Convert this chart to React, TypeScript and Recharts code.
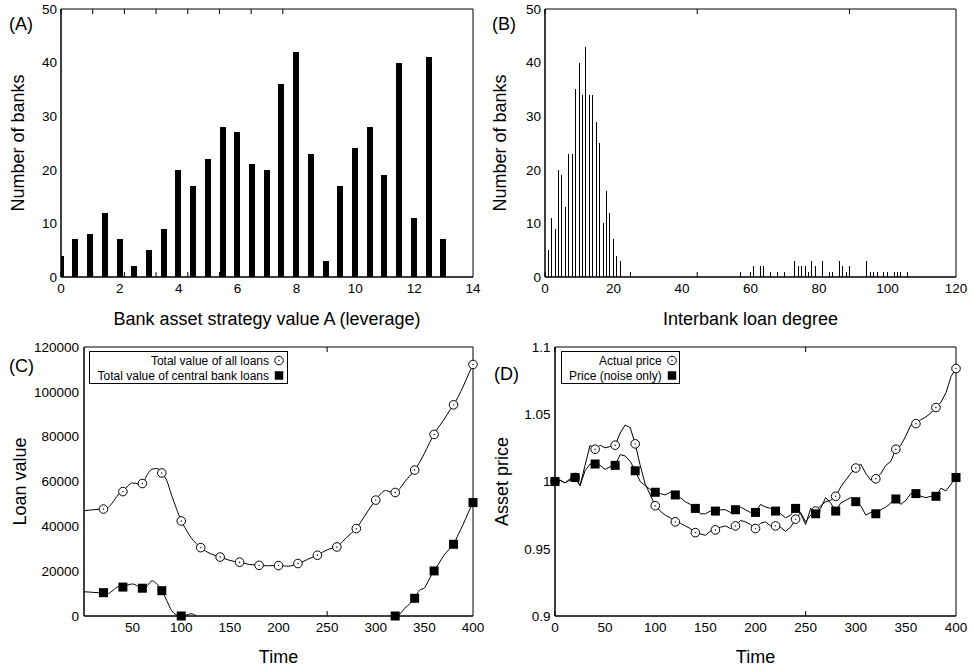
import React from "react";
import { Bar, BarChart, Legend, Line, LineChart, XAxis, YAxis } from "recharts";

const FONT = '"Liberation Sans", Arial, Helvetica, sans-serif';

// (A) distribution of the leverage strategy value A
const leverageValues = [0, 0.5, 1, 1.5, 2, 2.5, 3, 3.5, 4, 4.5, 5, 5.5, 6, 6.5, 7, 7.5, 8, 8.5, 9, 9.5, 10, 10.5, 11, 11.5, 12, 12.5, 13];
const leverageCounts = [4, 7, 8, 12, 7, 2, 5, 9, 20, 17, 22, 28, 27, 21, 20, 36, 42, 23, 3, 17, 24, 28, 19, 40, 11, 41, 7];
const leverageTicks = [0, 2, 4, 6, 8, 10, 12, 14];
const bankTicks = [0, 10, 20, 30, 40, 50];

// (B) interbank loan degree distribution
const degreeValues = [
  1, 2, 3, 4, 5, 6, 7, 8, 9, 10, 11, 12, 13, 14, 15, 16, 17, 18, 19, 20, 21, 22, 25,
  57, 60, 61, 63, 64, 66, 68, 70, 73, 74, 75, 76, 77, 78, 79, 81, 83, 84, 86, 87, 88, 89,
  94, 95, 96, 97, 99, 100, 102, 103, 104, 106,
];
const degreeCounts = [
  5, 11, 9, 20, 19, 13, 23, 23, 35, 40, 34, 43, 34, 34, 29, 25, 10, 16, 12, 7, 4, 3, 1,
  1, 1, 2, 2, 2, 1, 1, 1, 3, 2, 2, 2, 1, 3, 2, 3, 1, 1, 3, 2, 1, 2,
  3, 1, 1, 1, 1, 1, 1, 1, 1, 1,
];
const degreeTicks = [0, 20, 40, 60, 80, 100, 120];

// (C) and (D) share the time axis
const timeSteps = [
  0, 5, 10, 15, 20, 25, 30, 35, 40, 45, 50, 55, 60, 65, 70, 75, 80, 85, 90, 95,
  100, 105, 110, 115, 120, 125, 130, 135, 140, 145, 150, 155, 160, 165, 170, 175, 180, 185, 190, 195,
  200, 205, 210, 215, 220, 225, 230, 235, 240, 245, 250, 255, 260, 265, 270, 275, 280, 285, 290, 295,
  300, 305, 310, 315, 320, 325, 330, 335, 340, 345, 350, 355, 360, 365, 370, 375, 380, 385, 390, 395,
  400,
];

const allLoans = [
  47000, 47200, 47400, 47600, 47700, 48500, 51000, 54000, 55500, 58000,
  59400, 59000, 59100, 63000, 65500, 65800, 63800, 60500, 54000, 48000,
  42400, 38500, 35000, 32500, 30500, 29000, 27800, 27000, 26300, 25500,
  24800, 24300, 24000, 23500, 23000, 22800, 22600, 22500, 22400, 22500,
  22500, 22400, 22200, 22600, 23400, 24200, 25300, 26200, 27100, 28400,
  29500, 30200, 30800, 32800, 35000, 37000, 39000, 42200, 45500, 48800,
  51700, 54500, 56000, 55300, 55100, 57000, 60000, 62500, 65100, 68500,
  72500, 77000, 81000, 84500, 87500, 91000, 94200, 98000, 102500, 107500,
  112200,
];
const centralLoans = [
  10800, 10700, 10500, 10400, 10400, 10100, 11500, 13000, 12900, 13800,
  14300, 13400, 12400, 13500, 15700, 14200, 11300, 7000, 2500, 500,
  0, 400, 1000, 300, null, null, null, null, null, null,
  null, null, null, null, null, null, null, null, null, null,
  null, null, null, null, null, null, null, null, null, null,
  null, null, null, null, null, null, null, null, null, null,
  null, null, null, null, 0, 1000, 3500, 5500, 7900, 11500,
  12500, 16500, 20100, 23500, 27000, 29500, 32000, 36500, 41000, 46000,
  50600,
];
const loanTicks = [0, 20000, 40000, 60000, 80000, 100000, 120000];
const loanTimeTicks = [50, 100, 150, 200, 250, 300, 350, 400];

const actualPrice = [
  1.0, 1.001, 0.999, 1.002, 1.003, 0.997, 1.012, 1.027, 1.024, 1.027,
  1.025, 1.026, 1.027, 1.036, 1.042, 1.04, 1.028, 1.012, 0.998, 0.99,
  0.982, 0.978, 0.975, 0.973, 0.97, 0.969, 0.967, 0.965, 0.962, 0.961,
  0.96, 0.963, 0.964, 0.966, 0.967, 0.965, 0.967, 0.971, 0.97, 0.968,
  0.965, 0.969, 0.97, 0.967, 0.967, 0.966, 0.963, 0.966, 0.972, 0.977,
  0.97, 0.975, 0.978, 0.982, 0.985, 0.986, 0.989, 0.996, 1.001, 1.006,
  1.01, 1.013, 1.006, 1.001, 1.002, 1.006, 1.012, 1.015, 1.024, 1.027,
  1.034, 1.042, 1.043, 1.046, 1.048, 1.051, 1.055, 1.059, 1.066, 1.078,
  1.084,
];
const noisePrice = [
  1.0, 1.001, 0.999, 1.001, 1.003, 0.997, 1.008, 1.013, 1.013, 1.012,
  1.009, 1.011, 1.012, 1.02, 1.019, 1.015, 1.008, 1.0, 0.997, 0.994,
  0.992, 0.991, 0.99, 0.992, 0.99, 0.988, 0.985, 0.983, 0.98, 0.976,
  0.976, 0.978, 0.978, 0.979, 0.979, 0.977, 0.979, 0.981, 0.979, 0.977,
  0.977, 0.983, 0.981, 0.98, 0.978, 0.976, 0.973, 0.975, 0.98, 0.976,
  0.968, 0.98, 0.976, 0.98, 0.988, 0.984, 0.978, 0.984, 0.986, 0.988,
  0.985, 0.982, 0.975, 0.977, 0.976, 0.979, 0.981, 0.984, 0.987, 0.983,
  0.986, 0.991, 0.991, 0.989, 0.988, 0.989, 0.989, 0.995, 0.993, 0.998,
  1.003,
];
const priceTicks = [0.9, 0.95, 1, 1.05, 1.1];
const priceTimeTicks = [0, 50, 100, 150, 200, 250, 300, 350, 400];

const leverageRows = leverageValues.map((v, i) => ({ value: v, count: leverageCounts[i] }));
const degreeRows = degreeValues.map((v, i) => ({ value: v, count: degreeCounts[i] }));
const loanRows = timeSteps.map((t, i) => ({ time: t, all: allLoans[i], central: centralLoans[i] }));
const priceRows = timeSteps.map((t, i) => ({ time: t, actual: actualPrice[i], noise: noisePrice[i] }));

const tickText = { fill: "#000", fontSize: 13.5 };
const noTick = () => <g />;

// gnuplot style box: inward ticks on all four sides, drawn by mirrored axes
function frameAxes(xDomain: number[], xTicks: number[], yDomain: number[], yTicks: number[]) {
  const common = { type: "number" as const, interval: 0, stroke: "#000", tickSize: 5, tick: noTick, mirror: true };
  return [
    <XAxis key="fb" xAxisId="fb" orientation="bottom" domain={xDomain} ticks={xTicks} height={1} {...common} />,
    <XAxis key="ft" xAxisId="ft" orientation="top" domain={xDomain} ticks={xTicks} height={1} {...common} />,
    <YAxis key="fl" yAxisId="fl" orientation="left" domain={yDomain} ticks={yTicks} width={1} {...common} />,
    <YAxis key="fr" yAxisId="fr" orientation="right" domain={yDomain} ticks={yTicks} width={1} {...common} />,
  ];
}

const blackBar = (p: any) => (
  <rect x={p.x} y={p.y} width={p.width} height={p.height} fill="#000" shapeRendering="crispEdges" />
);

function OpenCircle({ cx, cy }: { cx: number; cy: number }) {
  return (
    <g>
      <circle cx={cx} cy={cy} r={4.3} fill="#fff" stroke="#000" strokeWidth={1} />
      <circle cx={cx} cy={cy} r={0.7} fill="#000" />
    </g>
  );
}

function FilledSquare({ cx, cy, size = 9 }: { cx: number; cy: number; size?: number }) {
  return <rect x={cx - size / 2} y={cy - size / 2} width={size} height={size} fill="#000" />;
}

// draw a point symbol every 20 time steps, like the gnuplot original
function everyTwenty(kind: "circle" | "square", skipZero: boolean) {
  return (props: any) => {
    const { cx, cy, payload, index, value } = props;
    const key = `mark-${index}`;
    if (cx == null || cy == null || value == null || payload == null) return <g key={key} />;
    const t = payload.time;
    if (t % 20 !== 0 || (skipZero && t === 0)) return <g key={key} />;
    return kind === "circle" ? (
      <OpenCircle key={key} cx={cx} cy={cy} />
    ) : (
      <FilledSquare key={key} cx={cx} cy={cy} />
    );
  };
}

function LegendBox({ width, textEnd, markX, labels }: { width: number; textEnd: number; markX: number; labels: string[] }) {
  return (
    <svg width={width} height={33} style={{ display: "block" }}>
      <rect x={0.5} y={0.5} width={width - 1} height={32} fill="#fff" stroke="#000" />
      {labels.map((label, i) => {
        const cy = 9.5 + 15 * i;
        return (
          <g key={label}>
            <text x={textEnd} y={cy + 4.2} textAnchor="end" fontSize={12} fill="#000">
              {label}
            </text>
            {i === 0 ? <OpenCircle cx={markX} cy={cy} /> : <FilledSquare cx={markX} cy={cy} size={8.5} />}
          </g>
        );
      })}
    </svg>
  );
}

const panelLabel = (text: string, left: number, top: number) => (
  <div style={{ position: "absolute", left, top, fontSize: 18, lineHeight: "18px", color: "#000" }}>{text}</div>
);

export default function App() {
  return (
    <div style={{ position: "absolute", left: 0, top: 0, width: 972, height: 669, background: "#fff", fontFamily: FONT }}>
      {/* (A) */}
      <div style={{ position: "absolute", left: 0, top: 0 }}>
        <BarChart width={486} height={330} data={leverageRows} margin={{ top: 9, right: 13, bottom: 0, left: 0 }}>
          <XAxis
            dataKey="value"
            type="number"
            domain={[0, 14]}
            ticks={leverageTicks}
            interval={0}
            allowDataOverflow
            height={53}
            stroke="#000"
            tickLine={false}
            tickSize={0}
            tickMargin={6}
            tick={tickText}
            label={{ value: "Bank asset strategy value A (leverage)", position: "insideBottom", offset: 5, fill: "#000", fontSize: 18 }}
          />
          <YAxis
            type="number"
            domain={[0, 50]}
            ticks={bankTicks}
            interval={0}
            width={61}
            stroke="#000"
            tickLine={false}
            tickSize={0}
            tickMargin={4}
            tick={tickText}
            label={{ value: "Number of banks", angle: -90, position: "insideLeft", offset: 18, fill: "#000", fontSize: 18, style: { textAnchor: "middle" } }}
          />
          {frameAxes([0, 14], leverageTicks, [0, 50], bankTicks)}
          <Bar dataKey="count" barSize={6} shape={blackBar} isAnimationActive={false} />
        </BarChart>
      </div>

      {/* (B) */}
      <div style={{ position: "absolute", left: 486, top: 0 }}>
        <BarChart width={486} height={330} data={degreeRows} margin={{ top: 9, right: 16, bottom: 0, left: 0 }}>
          <XAxis
            dataKey="value"
            type="number"
            domain={[0, 120]}
            ticks={degreeTicks}
            interval={0}
            allowDataOverflow
            height={53}
            stroke="#000"
            tickLine={false}
            tickSize={0}
            tickMargin={6}
            tick={tickText}
            label={{ value: "Interbank loan degree", position: "insideBottom", offset: 5, fill: "#000", fontSize: 18 }}
          />
          <YAxis
            type="number"
            domain={[0, 50]}
            ticks={bankTicks}
            interval={0}
            width={59}
            stroke="#000"
            tickLine={false}
            tickSize={0}
            tickMargin={4}
            tick={tickText}
            label={{ value: "Number of banks", angle: -90, position: "insideLeft", offset: 14, fill: "#000", fontSize: 18, style: { textAnchor: "middle" } }}
          />
          {frameAxes([0, 120], degreeTicks, [0, 50], bankTicks)}
          <Bar dataKey="count" barSize={1} shape={blackBar} isAnimationActive={false} />
        </BarChart>
      </div>

      {/* (C) */}
      <div style={{ position: "absolute", left: 0, top: 330 }}>
        <LineChart width={486} height={339} data={loanRows} margin={{ top: 17, right: 13, bottom: 0, left: 0 }}>
          <XAxis
            dataKey="time"
            type="number"
            domain={[0, 400]}
            ticks={loanTimeTicks}
            interval={0}
            height={53}
            stroke="#000"
            tickLine={false}
            tickSize={0}
            tickMargin={6}
            tick={tickText}
            label={{ value: "Time", position: "insideBottom", offset: 6, fill: "#000", fontSize: 18 }}
          />
          <YAxis
            type="number"
            domain={[0, 120000]}
            ticks={loanTicks}
            interval={0}
            width={84}
            stroke="#000"
            tickLine={false}
            tickSize={0}
            tickMargin={5}
            tick={tickText}
            label={{ value: "Loan value", angle: -90, position: "insideLeft", offset: 19.5, fill: "#000", fontSize: 18, style: { textAnchor: "middle" } }}
          />
          {frameAxes([0, 400], loanTimeTicks, [0, 120000], loanTicks)}
          <Legend
            layout="vertical"
            align="center"
            verticalAlign="middle"
            wrapperStyle={{ left: 89, top: 21, width: 199, height: 33 }}
            content={() => (
              <LegendBox width={199} textEnd={180} markX={190} labels={["Total value of all loans", "Total value of central bank loans"]} />
            )}
          />
          <Line dataKey="all" type="monotone" stroke="#000" strokeWidth={1} dot={everyTwenty("circle", true)} activeDot={false} isAnimationActive={false} />
          <Line dataKey="central" type="monotone" stroke="#000" strokeWidth={1} dot={everyTwenty("square", true)} activeDot={false} isAnimationActive={false} />
        </LineChart>
      </div>

      {/* (D) */}
      <div style={{ position: "absolute", left: 486, top: 330 }}>
        <LineChart width={486} height={339} data={priceRows} margin={{ top: 17, right: 16, bottom: 0, left: 0 }}>
          <XAxis
            dataKey="time"
            type="number"
            domain={[0, 400]}
            ticks={priceTimeTicks}
            interval={0}
            height={53}
            stroke="#000"
            tickLine={false}
            tickSize={0}
            tickMargin={6}
            tick={tickText}
            label={{ value: "Time", position: "insideBottom", offset: 6, fill: "#000", fontSize: 18 }}
          />
          <YAxis
            type="number"
            domain={[0.9, 1.1]}
            ticks={priceTicks}
            interval={0}
            width={69}
            stroke="#000"
            tickLine={false}
            tickSize={0}
            tickMargin={4.5}
            tick={tickText}
            label={{ value: "Asset price", angle: -90, position: "insideLeft", offset: 16, fill: "#000", fontSize: 18, style: { textAnchor: "middle" } }}
          />
          {frameAxes([0, 400], priceTimeTicks, [0.9, 1.1], priceTicks)}
          <Legend
            layout="vertical"
            align="center"
            verticalAlign="middle"
            wrapperStyle={{ left: 75, top: 21, width: 119, height: 33 }}
            content={() => <LegendBox width={119} textEnd={100.7} markX={111} labels={["Actual price", "Price (noise only)"]} />}
          />
          <Line dataKey="actual" type="linear" stroke="#000" strokeWidth={1} dot={everyTwenty("circle", false)} activeDot={false} isAnimationActive={false} />
          <Line dataKey="noise" type="linear" stroke="#000" strokeWidth={1} dot={everyTwenty("square", false)} activeDot={false} isAnimationActive={false} />
        </LineChart>
      </div>

      {panelLabel("(A)", 9, 14.5)}
      {panelLabel("(B)", 492, 14.5)}
      {panelLabel("(C)", 9, 357)}
      {panelLabel("(D)", 494, 365)}
    </div>
  );
}
